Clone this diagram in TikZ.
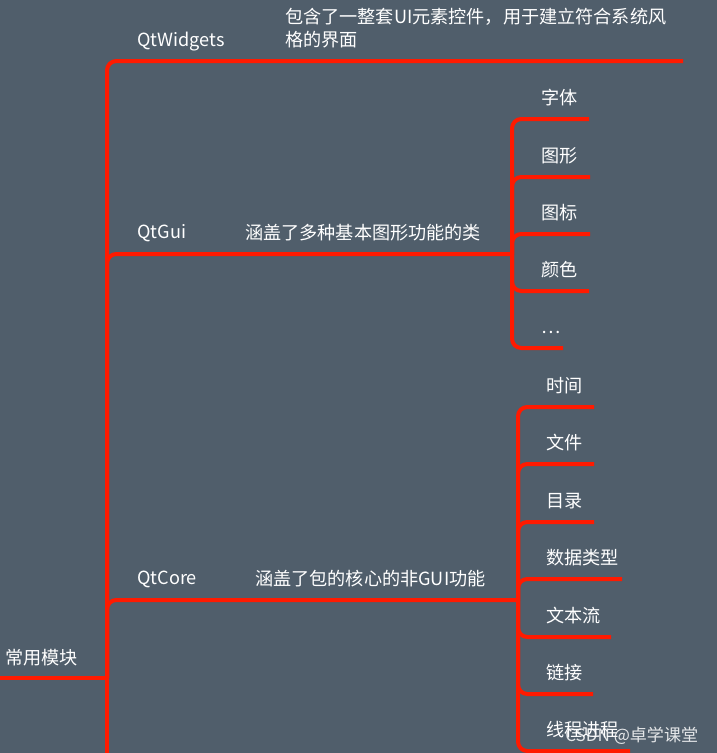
\documentclass[tikz,border=0pt]{standalone}
\usepackage{fontspec}
\setmainfont{Noto Sans CJK SC}
\usetikzlibrary{positioning}
\definecolor{Slate}{HTML}{505E6B}
\definecolor{Branch}{HTML}{FF1A00}

\begin{document}
\begin{tikzpicture}[x=0.75pt,y=-0.75pt,font=\fontsize{13.6}{17.3}\selectfont,text=white,
    branch/.style={draw=Branch,line width=3pt,rounded corners=7pt},
    lbl/.style={anchor=base west,inner sep=0pt,align=left}]
  \fill[Slate] (0,0) rectangle (717,753);
  \useasboundingbox (0,0) rectangle (717,753);
  % trunk
  \coordinate (hub) at (107,678);
  \coordinate (trunkEnd) at (107,770);
  \node[lbl] (root) at (5,664) {常用模块};
  \draw[branch] (0,678) -- (hub);
  \draw[branch] (hub) -- (trunkEnd);
  % modules
  \coordinate (widgetsEnd) at (683,61);
  \coordinate (guiJoin) at (512,254);
  \coordinate (coreJoin) at (518,600);
  \node[lbl] (widgets) at (137,46) {QtWidgets};
  \node[lbl,anchor=west] (widgetsNote) at (285,28) {包含了一整套UI元素控件，用于建立符合系统风\\格的界面};
  \node[lbl] (gui) at (137,238) {QtGui};
  \node[lbl] (guiNote) at (245,239) {涵盖了多种基本图形功能的类};
  \node[lbl] (core) at (137,584) {QtCore};
  \node[lbl] (coreNote) at (255,585) {涵盖了包的核心的非GUI功能};
  \draw[branch] (hub) |- (widgetsEnd);
  \draw[branch] (hub) |- (guiJoin);
  \draw[branch] (hub) |- (coreJoin);
  % QtGui items
  \foreach \y/\name/\txt/\len in {119/font/字体/589,177/shape/图形/590,234/icon/图标/590,291/color/颜色/589,348/more/\ldots/563}{
    \coordinate (\name-end) at (\len,\y);
    \node[lbl] (\name) at (541,\y-15) {\txt};
    \draw[branch] (guiJoin) |- (\name-end);}
  % QtCore items
  \foreach \y/\name/\txt/\len in {407/time/时间/594,464/file/文件/594,522/dir/目录/594,579/dtype/数据类型/622,637/stream/文本流/611,694/link/链接/593,751/thread/线程进程/630}{
    \coordinate (\name-end) at (\len,\y);
    \node[lbl] (\name) at (546,\y-15) {\txt};
    \draw[branch] (coreJoin) |- (\name-end);}
  \node[lbl,opacity=.85,font=\fontsize{12.8}{15}\selectfont] (mark) at (565,741) {CSDN @卓学课堂};
\end{tikzpicture}
\end{document}
